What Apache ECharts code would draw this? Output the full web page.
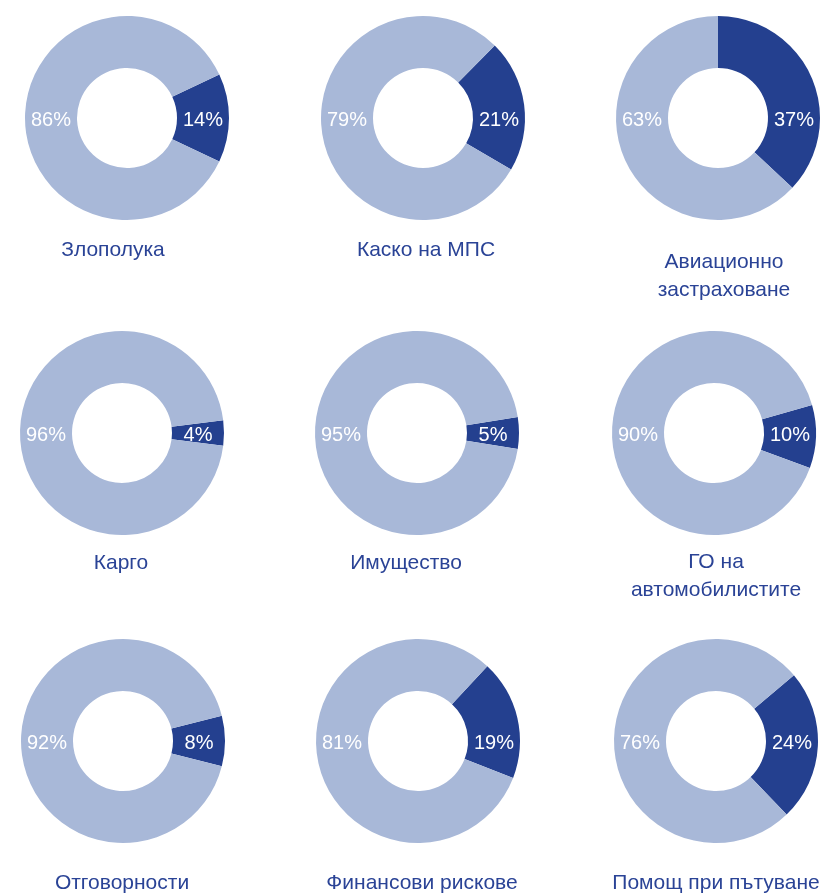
<!DOCTYPE html>
<html>
<head>
<meta charset="utf-8">
<script src="https://cdn.jsdelivr.net/npm/echarts@6/dist/echarts.min.js"></script>
<style>
  html, body { margin: 0; padding: 0; background: #ffffff; }
  #chart { width: 827px; height: 895px; }
</style>
</head>
<body>
<div id="chart"></div>
<script>
// ---- data ----
const categories = [
  'Злополука', 'Каско на МПС', 'Авиационно\nзастраховане',
  'Карго', 'Имущество', 'ГО на\nавтомобилистите',
  'Отговорности', 'Финансови рискове', 'Помощ при пътуване'
];
const shareHighlighted = [14, 21, 37, 4, 5, 10, 8, 19, 24];
const shareOther = [86, 79, 63, 96, 95, 90, 92, 81, 76];

// ---- layout (positions / styles, not data) ----
const donutCenters = [
  [127, 118], [423, 118], [718, 118],
  [122, 433], [417, 433], [714, 433],
  [123, 741], [418, 741], [716, 741]
];
const highlightMidAngle = [0, 7.5, 23.4, 0, 0, -2, 0, 13, -3];
const titleCenters = [
  [113, 236], [426, 236], [724, 248],
  [121, 549], [406, 549], [716, 548],
  [122, 869], [422, 869], [716, 869]
];
const outerR = 102, innerR = 50, labelOffset = 76;
const darkColor = '#24408f';
const lightColor = '#a8b8d8';
const titleColor = '#2a4396';

const chart = echarts.init(document.getElementById('chart'), null, { renderer: 'canvas' });

const series = categories.map((name, i) => {
  const c = donutCenters[i];
  return {
    type: 'pie',
    name: name,
    center: c,
    radius: [innerR, outerR],
    clockwise: true,
    startAngle: highlightMidAngle[i] + shareHighlighted[i] * 1.8,
    avoidLabelOverlap: false,
    silent: true,
    animation: false,
    itemStyle: { borderWidth: 0 },
    label: {
      show: true,
      position: 'inside',
      formatter: '{c}%',
      color: '#ffffff',
      fontSize: 20,
      fontFamily: 'Liberation Sans, Arial, sans-serif'
    },
    labelLine: { show: false },
    labelLayout: function (p) {
      return {
        x: p.dataIndex === 0 ? c[0] + labelOffset : c[0] - labelOffset,
        y: c[1] + 2,
        align: 'center',
        verticalAlign: 'middle'
      };
    },
    data: [
      { value: shareHighlighted[i], name: 'highlight', itemStyle: { color: darkColor } },
      { value: shareOther[i], name: 'other', itemStyle: { color: lightColor } }
    ]
  };
});

const titles = categories.map((name, i) => ({
  text: name,
  left: titleCenters[i][0],
  top: titleCenters[i][1],
  textAlign: 'center',
  padding: 0,
  textStyle: {
    color: titleColor,
    fontSize: 21,
    fontWeight: 'normal',
    lineHeight: 28,
    fontFamily: 'Liberation Sans, Arial, sans-serif'
  }
}));

chart.setOption({
  backgroundColor: '#ffffff',
  animation: false,
  title: titles,
  series: series
});
</script>
</body>
</html>
